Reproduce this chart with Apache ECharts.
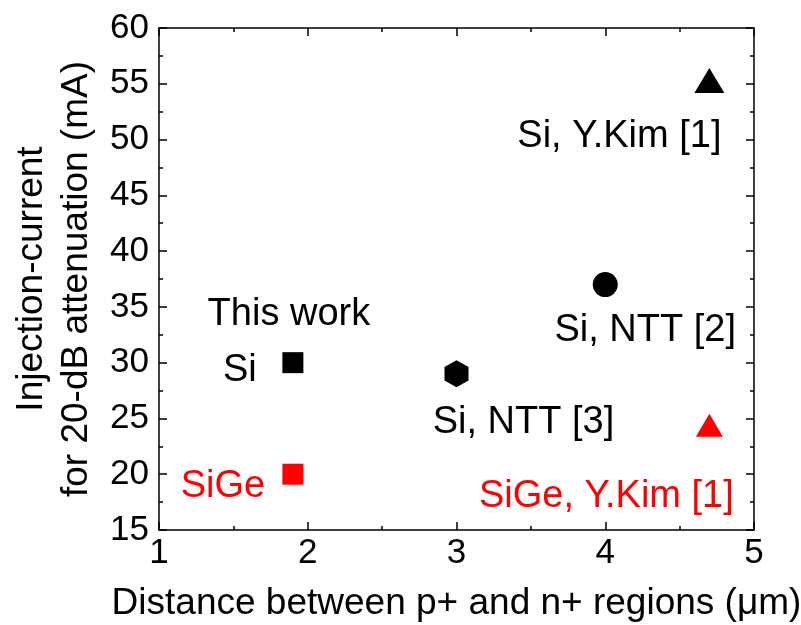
<!DOCTYPE html>
<html style="height: 100%">
<head>
  <meta charset="UTF-8">
  <title>Injection current vs p+/n+ distance</title>
  <script src="https://cdn.jsdelivr.net/npm/echarts@6/dist/echarts.min.js"></script>
  <style>
    body { margin: 0; height: 100%; background: #fff; }
    #main { width: 801px; height: 625px; }
  </style>
</head>
<body>
  <div id="main"></div>
  <script>
    // data
    const siThisWork = [[1.9, 30]];
    const sigeThisWork = [[1.9, 20]];
    const siNtt3 = [[3.0, 29]];
    const siNtt2 = [[4.0, 37]];
    const siKim = [[4.7, 55.3]];
    const sigeKim = [[4.7, 24.4]];

    const xTicks = { min: 1, max: 5, interval: 1 };
    const yTicks = { min: 15, max: 60, interval: 5 };

    const FONT = "'Liberation Sans', Arial, sans-serif";
    const RED = '#ff0000';

    const chart = echarts.init(document.getElementById('main'));

    function axisBase(show) {
      return {
        type: 'value',
        axisLine: { show: true, onZero: false, lineStyle: { color: '#000', width: 1.5 } },
        axisTick: { show: true, inside: true, length: 8, lineStyle: { color: '#000', width: 1.5 } },
        minorTick: { show: true, splitNumber: 2, length: 4, lineStyle: { color: '#000', width: 1.5 } },
        splitLine: { show: false },
        axisLabel: { show: show, color: '#000', fontSize: 35, fontFamily: FONT }
      };
    }

    function pointLabel(text, color, offset) {
      return {
        show: true,
        formatter: text,
        position: 'inside',
        align: 'center',
        verticalAlign: 'middle',
        offset: offset,
        color: color,
        opacity: 1,
        fontSize: 38,
        fontFamily: FONT
      };
    }

    const hexagon = 'path://M0,-1 L0.866,-0.5 L0.866,0.5 L0,1 L-0.866,0.5 L-0.866,-0.5 Z';

    function item(color) {
      return { color: color, opacity: 1 };
    }

    const option = {
      animation: false,
      grid: { left: 159, right: 47, top: 28, bottom: 95, outerBoundsMode: 'none' },
      xAxis: [
        Object.assign(axisBase(true), xTicks, {
          position: 'bottom',
          name: 'Distance between p+ and n+ regions (\u03bcm)',
          nameLocation: 'middle',
          nameGap: 55,
          nameTextStyle: { color: '#000', fontSize: 37, fontFamily: FONT },
          axisLabel: { color: '#000', fontSize: 35, fontFamily: FONT, margin: 6 }
        }),
        Object.assign(axisBase(false), xTicks, { position: 'top' })
      ],
      yAxis: [
        Object.assign(axisBase(true), yTicks, {
          position: 'left',
          name: 'Injection-current\nfor 20-dB attenuation (mA)',
          nameLocation: 'middle',
          nameGap: 56,
          nameTextStyle: { color: '#000', fontSize: 37, fontFamily: FONT, lineHeight: 45 },
          axisLabel: { color: '#000', fontSize: 35, fontFamily: FONT, margin: 10 }
        }),
        Object.assign(axisBase(false), yTicks, { position: 'right' })
      ],
      series: [
        {
          type: 'scatter', data: siThisWork, symbol: 'rect', symbolSize: 21,
          itemStyle: item('#000'),
          label: pointLabel('Si', '#000', [-53, 8])
        },
        {
          // heading above the "Si" point
          type: 'scatter', data: siThisWork, symbolSize: 0, silent: true,
          itemStyle: item('#000'),
          label: pointLabel('This work', '#000', [-4, -48])
        },
        {
          type: 'scatter', data: sigeThisWork, symbol: 'rect', symbolSize: 21,
          itemStyle: item(RED),
          label: pointLabel('SiGe', RED, [-70, 12])
        },
        {
          type: 'scatter', data: siNtt3, symbol: hexagon, symbolSize: [24, 27],
          itemStyle: item('#000'),
          label: pointLabel('Si, NTT [3]', '#000', [67, 49])
        },
        {
          type: 'scatter', data: siNtt2, symbol: 'circle', symbolSize: 25,
          itemStyle: item('#000'),
          label: pointLabel('Si, NTT [2]', '#000', [40, 46])
        },
        {
          type: 'scatter', data: siKim, symbol: 'triangle', symbolSize: [30, 25],
          itemStyle: item('#000'),
          label: pointLabel('Si, Y.Kim [1]', '#000', [-90, 56])
        },
        {
          type: 'scatter', data: sigeKim, symbol: 'triangle', symbolSize: [27, 23],
          itemStyle: item(RED),
          label: pointLabel('SiGe, Y.Kim [1]', RED, [-103, 71])
        }
      ]
    };

    chart.setOption(option);
  </script>
</body>
</html>
